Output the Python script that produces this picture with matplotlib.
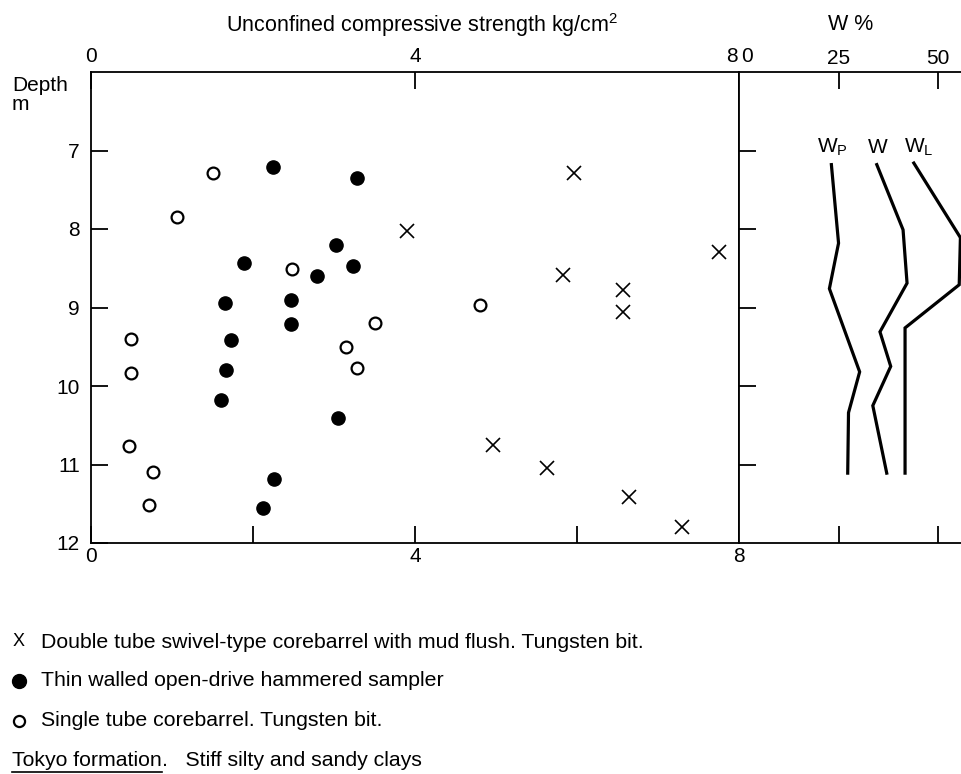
import matplotlib
matplotlib.use("Agg")
import matplotlib.pyplot as plt
from matplotlib.lines import Line2D

plt.rcParams['font.family'] = ['Liberation Sans', 'DejaVu Sans']
plt.rcParams['mathtext.default'] = 'regular'

# unconfined compressive strength (kg/cm2) vs depth (m)
x_double = [5.96, 3.90, 7.75, 5.83, 6.57, 6.57, 4.96, 5.63, 6.64, 7.30]
d_double = [7.29, 8.02, 8.29, 8.59, 8.78, 9.06, 10.75, 11.04, 11.41, 11.80]

x_thin = [2.25, 3.28, 3.02, 1.89, 2.79, 3.24, 1.65, 2.47, 2.47, 1.73, 1.67, 1.60, 3.05, 2.26, 2.12]
d_thin = [7.21, 7.35, 8.20, 8.43, 8.60, 8.47, 8.94, 8.90, 9.21, 9.41, 9.80, 10.18, 10.41, 11.18, 11.55]

x_single = [1.51, 1.06, 2.48, 4.80, 3.51, 3.15, 3.28, 0.49, 0.49, 0.47, 0.76, 0.72]
d_single = [7.29, 7.85, 8.51, 8.97, 9.20, 9.50, 9.77, 9.40, 9.83, 10.76, 11.10, 11.52]

# water content profiles (%)
wp_w = [23.2, 25.0, 22.7, 30.3, 27.5, 27.3]
wp_d = [7.18, 8.18, 8.76, 9.82, 10.34, 11.11]
w_w = [34.6, 41.2, 42.2, 35.4, 38.1, 33.6, 37.1]
w_d = [7.18, 8.01, 8.69, 9.31, 9.75, 10.25, 11.11]
wl_w = [43.9, 55.6, 55.3, 41.7, 41.7]
wl_d = [7.16, 8.11, 8.71, 9.26, 11.11]

W, H = 962, 774
FS = 15
fig = plt.figure(figsize=(W / 100, H / 100), dpi=100)
ax = fig.add_axes([91 / W, 1 - 543 / H, (739 - 91) / W, (543 - 72) / H])
ax2 = fig.add_axes([739 / W, 1 - 543 / H, (W - 739) / W, (543 - 72) / H])

ax.plot(x_double, d_double, 'x', color='black', markersize=10, mew=1.2)
ax.plot(x_thin, d_thin, 'o', color='black', markersize=9.5)
ax.plot(x_single, d_single, 'o', mfc='white', mec='black', markersize=8.5, mew=1.6)

ax.set_xlim(0, 8)
ax.set_ylim(12, 6)
ax.set_xticks([0, 4, 8])
ax.set_xticks([2, 6], minor=True)
ax.set_yticks([7, 8, 9, 10, 11, 12])
ax.tick_params(axis='x', which='major', direction='in', top=True, labeltop=False,
               length=12, width=1.3, labelsize=FS, pad=3)
ax.tick_params(axis='x', which='minor', direction='in', top=False, bottom=True,
               length=12, width=1.3)
ax.tick_params(axis='y', direction='in', length=12, width=1.3, labelsize=FS, pad=8)
for s in ax.spines.values():
    s.set_linewidth(1.3)
# top labels drawn by hand so "8" and "0" can sit either side of the shared spine
top = ax.get_xaxis_transform()
ax.text(0, 1.012, '0', transform=top, fontsize=FS, ha='center', va='bottom')
ax.text(4, 1.012, '4', transform=top, fontsize=FS, ha='center', va='bottom')
ax.text(7.985, 1.012, '8', transform=top, fontsize=FS, ha='right', va='bottom')

for x, d in [(wp_w, wp_d), (w_w, w_d), (wl_w, wl_d)]:
    ax2.plot(x, d, color='black', lw=2.3, solid_joinstyle='miter')
ax2.set_xlim(0, 56)
ax2.set_ylim(12, 6)
ax2.set_xticks([25, 50])
ax2.set_yticks([7, 8, 9, 10, 11])
ax2.tick_params(axis='x', direction='in', top=True, labeltop=True, labelbottom=False,
                length=12, width=1.3, labelsize=FS, pad=3)
ax2.tick_params(axis='y', direction='in', length=12, width=1.3, labelleft=False)
ax2.spines['right'].set_visible(False)
for s in ['left', 'top', 'bottom']:
    ax2.spines[s].set_linewidth(1.3)
ax2.text(0.5, 1.012, '0', transform=ax2.get_xaxis_transform(), fontsize=FS,
         ha='left', va='bottom')

ax2.text(23.5, 6.96, 'W$_P$', fontsize=FS, ha='center', va='center')
ax2.text(34.8, 6.96, 'W', fontsize=FS, ha='center', va='center')
ax2.text(45.2, 6.96, 'W$_L$', fontsize=FS, ha='center', va='center')

fig.text(422 / W, 1 - 25 / H, 'Unconfined compressive strength kg/cm$^2$',
         fontsize=15.5, ha='center', va='center')
fig.text(851 / W, 1 - 25 / H, 'W %', fontsize=15.5, ha='center', va='center')
fig.text(12 / W, 1 - 95 / H, 'Depth\nm', fontsize=FS, ha='left', va='center',
         linespacing=1.05)

# legend notes
rows = [642, 681, 721]
fig.text(19 / W, 1 - rows[0] / H, 'X', fontsize=13, ha='center', va='center')
fig.add_artist(Line2D([19 / W], [1 - rows[1] / H], marker='o', color='black',
                      markersize=10, transform=fig.transFigure))
fig.add_artist(Line2D([19 / W], [1 - rows[2] / H], marker='o', mfc='white', mec='black',
                      markersize=8, mew=1.6, transform=fig.transFigure))
notes = ['Double tube swivel-type corebarrel with mud flush. Tungsten bit.',
         'Thin walled open-drive hammered sampler',
         'Single tube corebarrel. Tungsten bit.']
for y, t in zip(rows, notes):
    fig.text(41 / W, 1 - y / H, t, fontsize=15.3, ha='left', va='center')
tk = fig.text(12 / W, 1 - 761 / H, 'Tokyo formation', fontsize=15.3, ha='left', va='center')

fig.canvas.draw()
bb = tk.get_window_extent()
fig.text(bb.x1 / W, 1 - 761 / H, '.   Stiff silty and sandy clays', fontsize=15.3,
         ha='left', va='center')
fig.add_artist(Line2D([bb.x0 / W, bb.x1 / W], [(bb.y0 - 1) / H] * 2,
                      color='black', lw=1.2))

fig.savefig('out.png', dpi=100)
